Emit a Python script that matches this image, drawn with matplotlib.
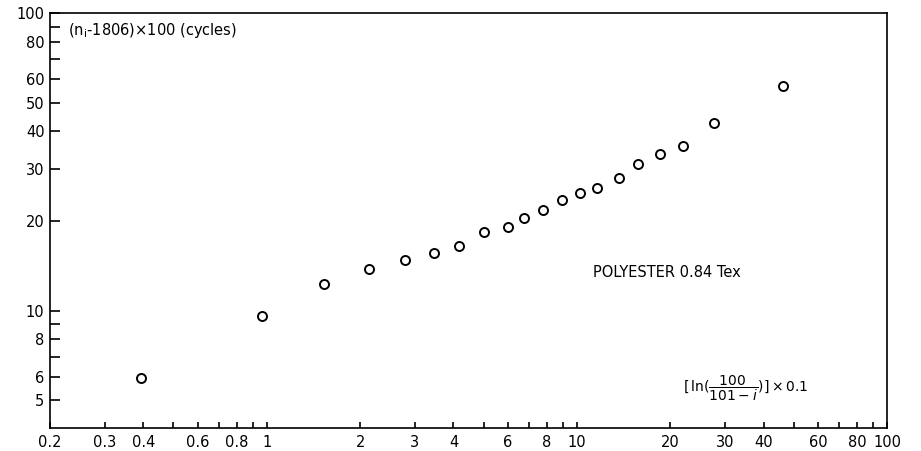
import matplotlib
matplotlib.use("Agg")
import matplotlib.pyplot as plt
from matplotlib.ticker import FixedLocator, NullFormatter

# data
x_vals = [0.393, 0.966, 1.53, 2.14, 2.80, 3.46, 4.17, 5.02, 6.00, 6.76,
          7.79, 8.97, 10.25, 11.6, 13.7, 15.8, 18.6, 22.0, 27.7, 46.2]
y_vals = [5.95, 9.6, 12.3, 13.8, 14.8, 15.6, 16.5, 18.4, 19.1, 20.5,
          21.8, 23.5, 24.8, 25.8, 27.9, 31.1, 33.6, 35.7, 42.7, 57.0]

x_major = [0.2, 0.3, 0.4, 0.6, 0.8, 1, 2, 3, 4, 6, 8, 10, 20, 30, 40, 60, 80, 100]
x_labels = ["0.2", "0.3", "0.4", "0.6", "0.8", "1", "2", "3", "4", "6", "8",
            "10", "20", "30", "40", "60", "80", "100"]
x_minor = [0.5, 0.7, 0.9, 5, 7, 9, 50, 70, 90]
y_major = [5, 6, 8, 10, 20, 30, 40, 50, 60, 80, 100]
y_labels = ["5", "6", "8", "10", "20", "30", "40", "50", "60", "80", "100"]
y_minor = [7, 9, 70, 90]

plt.rcParams["font.family"] = ["DejaVu Sans"]
plt.rcParams["mathtext.fontset"] = "dejavusans"

fig = plt.figure(figsize=(9.21, 4.51), dpi=100)
ax = fig.add_axes([50/921, 23/451, 837/921, 415/451])

ax.plot(x_vals, y_vals, linestyle="none", marker="o", markersize=6.5,
        markerfacecolor="white", markeredgecolor="black", markeredgewidth=1.4)

ax.set_xscale("log")
ax.set_yscale("log")
ax.set_xlim(0.2, 100)
ax.set_ylim(4.03, 100)

ax.xaxis.set_major_locator(FixedLocator(x_major))
ax.xaxis.set_minor_locator(FixedLocator(x_minor))
ax.set_xticklabels(x_labels)
ax.xaxis.set_minor_formatter(NullFormatter())
ax.yaxis.set_major_locator(FixedLocator(y_major))
ax.yaxis.set_minor_locator(FixedLocator(y_minor))
ax.set_yticklabels(y_labels)
ax.yaxis.set_minor_formatter(NullFormatter())

ax.tick_params(axis="x", which="both", direction="in", length=4, width=1.2,
               labelsize=10.5, pad=5)
ax.tick_params(axis="y", which="both", direction="in", length=7, width=1.2,
               labelsize=10.5, pad=4)

for s in ax.spines.values():
    s.set_linewidth(1.2)

# labels inside the frame
ax.text(0.022, 0.958, r"(n$_{\rm i}$-1806)$\times$100 (cycles)", transform=ax.transAxes,
        fontsize=10.5, ha="left", va="center")
ax.text(11.3, 13.4, "POLYESTER 0.84 Tex", fontsize=10.5, ha="left", va="center")
ax.text(0.756, 0.096, r"$[\,\ln(\dfrac{100}{101-i})]\times0.1$", transform=ax.transAxes,
        fontsize=10, ha="left", va="center")

fig.savefig("out.png", dpi=100)
